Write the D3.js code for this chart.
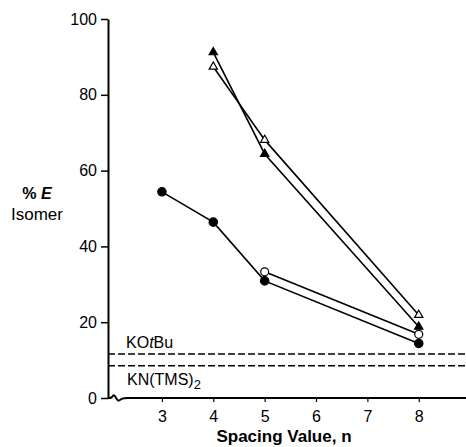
<!DOCTYPE html>
<html>
<head>
<meta charset="utf-8">
<script src="https://cdn.jsdelivr.net/npm/d3@7"></script>
<style>
  body { margin: 0; background: #fff; }
  text { font-family: "Liberation Sans", Arial, sans-serif; fill: #000; }
</style>
</head>
<body>
<div id="chart"></div>
<script>
// spacing values (n) and % E isomer
var filledCircleN = [3, 4, 5, 8];
var filledCircleE = [54.4, 46.4, 30.9, 14.4];

var openCircleN = [5, 8];
var openCircleE = [33.3, 16.8];

var filledTriN = [4, 5, 8];
var filledTriE = [91.2, 64.4, 18.8];

var openTriN = [4, 5, 8];
var openTriE = [87.4, 68.1, 21.9];

// base reference levels (dashed)
var baseNames = ["KOtBu", "KN(TMS)2"];
var baseLevels = [11.6, 8.5];

var xTicks = [3, 4, 5, 6, 7, 8];
var yTicks = [0, 20, 40, 60, 80, 100];

var width = 466, height = 447;

var svg = d3.select("#chart")
    .append("svg")
    .attr("width", width)
    .attr("height", height);

var x = d3.scaleLinear()
    .domain([1.95, 8.92])
    .range([108, 466]);

var y = d3.scaleLinear()
    .domain([0, 100])
    .range([398, 19]);

function pairs(xs, ys) {
    return xs.map(function (d, i) { return { n: d, e: ys[i] }; });
}

// y axis
var yAxis = svg.append("g")
    .attr("transform", "translate(" + x(1.95) + ",0)")
    .call(d3.axisLeft(y).tickValues(yTicks).tickSize(7).tickPadding(4).tickSizeOuter(0));
yAxis.select(".domain").attr("stroke-width", 2);
yAxis.selectAll(".tick line").attr("stroke-width", 1.5);
yAxis.selectAll(".tick text")
    .style("font-family", "Liberation Sans")
    .style("font-size", "16px");

// x axis, with the little break near the origin
var xAxis = svg.append("g")
    .attr("transform", "translate(0," + y(0) + ")")
    .call(d3.axisBottom(x).tickValues(xTicks).tickFormat(d3.format("d"))
        .tickSize(4).tickPadding(9).tickSizeOuter(0));
xAxis.select(".domain").remove();
xAxis.selectAll(".tick line").attr("stroke-width", 1.2);
xAxis.selectAll(".tick text")
    .style("font-family", "Liberation Sans")
    .style("font-size", "16px");

var axisLine = d3.line()
    .x(function (d) { return x(d[0]); })
    .y(function (d) { return y(0) + d[1]; })
    .curve(d3.curveBasis);

svg.append("path")
    .attr("fill", "none")
    .attr("stroke", "#000")
    .attr("stroke-width", 2)
    .attr("d", axisLine([[1.95, 0], [2.03, 0], [2.06, -4], [2.11, 0], [2.15, 4], [2.22, 0], [2.34, 0]]));

svg.append("line")
    .attr("x1", x(2.34)).attr("x2", x(8.92))
    .attr("y1", y(0)).attr("y2", y(0))
    .attr("stroke", "#000")
    .attr("stroke-width", 2);

// dashed base levels
svg.selectAll(".base")
    .data(baseLevels)
    .enter().append("line")
    .attr("class", "base")
    .attr("x1", x(1.95)).attr("x2", x(8.92))
    .attr("y1", function (d) { return y(d); })
    .attr("y2", function (d) { return y(d); })
    .attr("stroke", "#000")
    .attr("stroke-width", 1.6)
    .attr("stroke-dasharray", "7,3");

var kot = svg.append("text")
    .attr("x", 126)
    .attr("y", y(baseLevels[0]) - 6)
    .style("font-size", "16px");
kot.append("tspan").text("KO");
kot.append("tspan").style("font-style", "italic").text("t");
kot.append("tspan").text("Bu");

var kn = svg.append("text")
    .attr("x", 127)
    .attr("y", y(baseLevels[1]) + 19)
    .style("font-size", "16px");
kn.append("tspan").text("KN(TMS)");
kn.append("tspan").attr("dy", 4).style("font-size", "13px").text("2");

// series
var line = d3.line()
    .x(function (d) { return x(d.n); })
    .y(function (d) { return y(d.e); });

var series = [
    { data: pairs(filledCircleN, filledCircleE), shape: d3.symbolCircle, fill: "#000", size: 55 },
    { data: pairs(openCircleN, openCircleE), shape: d3.symbolCircle, fill: "#fff", size: 50 },
    { data: pairs(filledTriN, filledTriE), shape: d3.symbolTriangle, fill: "#000", size: 30 },
    { data: pairs(openTriN, openTriE), shape: d3.symbolTriangle, fill: "#fff", size: 30 }
];

series.forEach(function (s) {
    svg.append("path")
        .attr("fill", "none")
        .attr("stroke", "#000")
        .attr("stroke-width", 1.6)
        .attr("d", line(s.data));
});

series.forEach(function (s) {
    svg.selectAll(null)
        .data(s.data)
        .enter().append("path")
        .attr("transform", function (d) { return "translate(" + x(d.n) + "," + y(d.e) + ")"; })
        .attr("d", d3.symbol().type(s.shape).size(s.size))
        .attr("fill", s.fill)
        .attr("stroke", "#000")
        .attr("stroke-width", 1.2);
});

// axis titles
svg.append("text")
    .attr("x", 284)
    .attr("y", 442)
    .attr("text-anchor", "middle")
    .style("font-size", "17px")
    .style("font-weight", "bold")
    .text("Spacing Value, n");

var yt = svg.append("text")
    .attr("x", 37)
    .attr("y", 199)
    .attr("text-anchor", "middle")
    .style("font-size", "16px")
    .style("font-weight", "bold");
yt.append("tspan").text("% ");
yt.append("tspan").style("font-style", "italic").text("E");

svg.append("text")
    .attr("x", 37)
    .attr("y", 220)
    .attr("text-anchor", "middle")
    .style("font-size", "17px")
    .text("Isomer");
</script>
</body>
</html>
